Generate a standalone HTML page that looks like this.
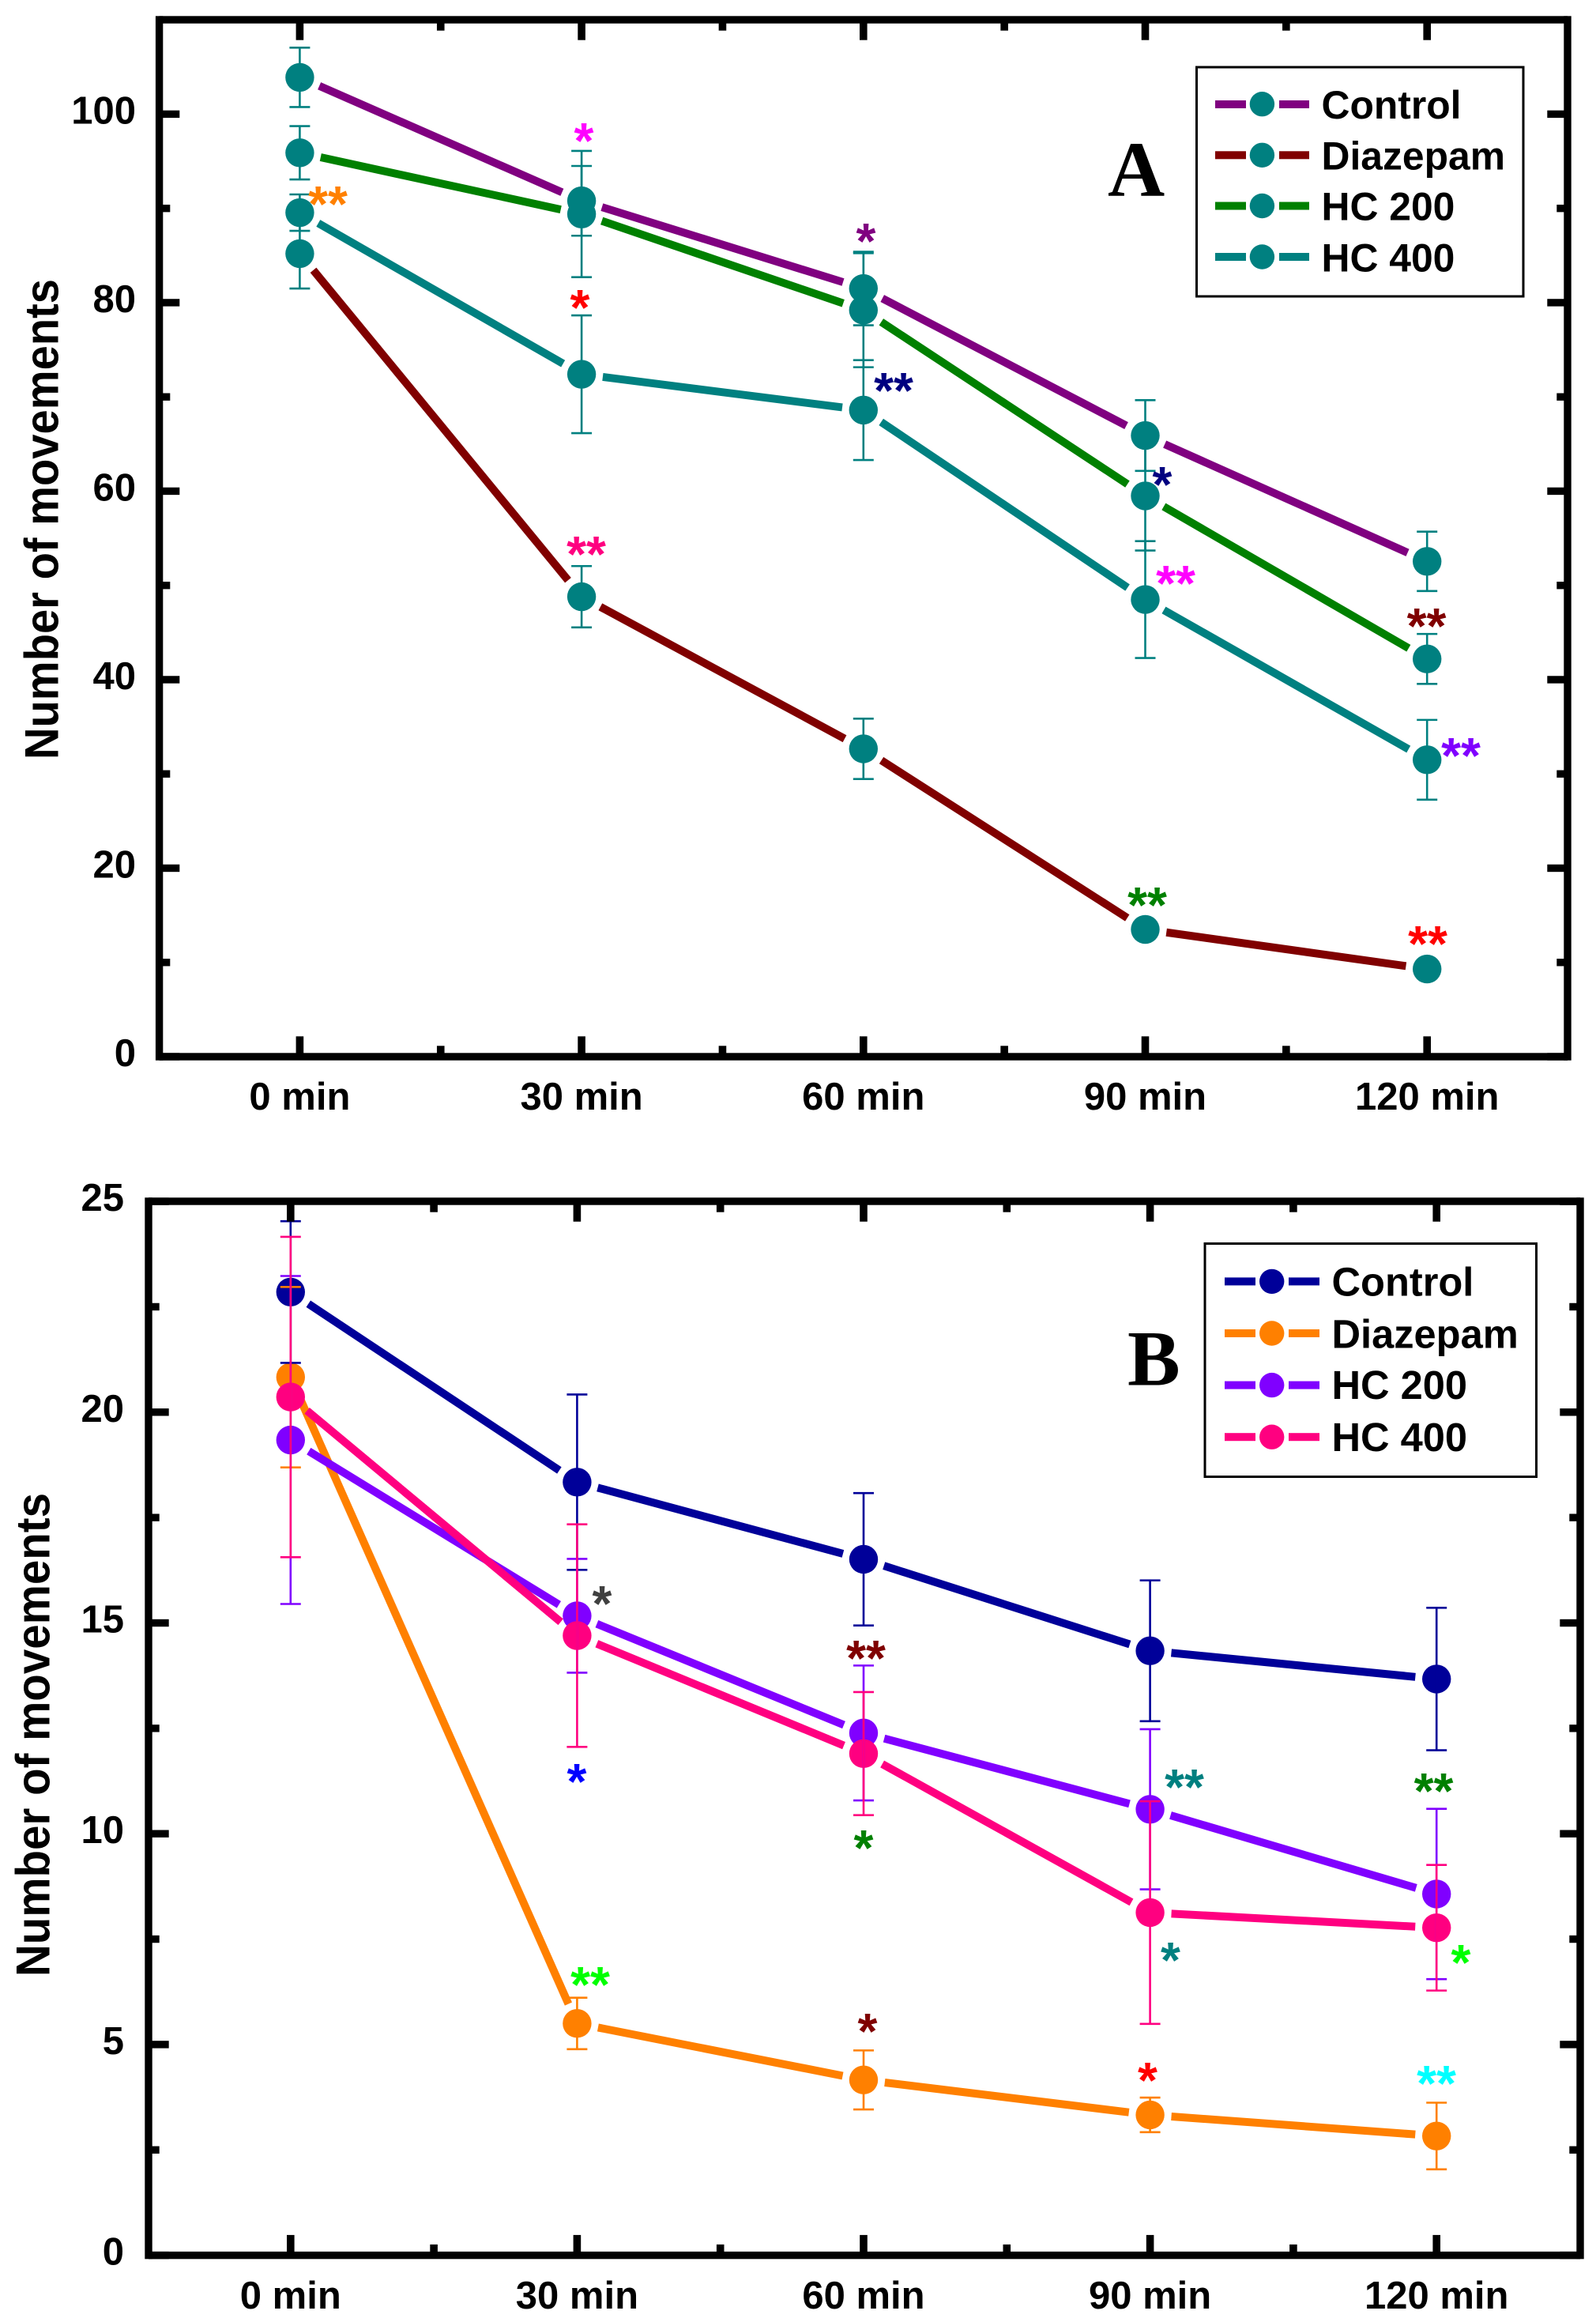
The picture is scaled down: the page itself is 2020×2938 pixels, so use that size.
<!DOCTYPE html>
<html>
<head>
<meta charset="utf-8">
<title>Number of movements, panels A and B</title>
<style>
html,body{margin:0;padding:0;background:#fff;width:2020px;height:2938px;overflow:hidden}
svg{display:block}
text{font-family:"Liberation Sans",Arial,sans-serif;font-weight:bold;fill:#000}
.tick{font-size:49px}
.leg{font-size:49.8px}
.legb{font-size:50.6px}
.panel{font-family:"Liberation Serif","Times New Roman",serif;font-size:100px}
.star{font-size:64px;text-anchor:middle}
.ytitle{font-size:60px}
</style>
</head>
<body>
<svg id="fig" xmlns="http://www.w3.org/2000/svg" width="2020" height="2938" viewBox="0 0 2020 2938">
  <rect width="2020" height="2938" fill="#fff"/>
  <g id="panelA"></g>
  <g id="panelB"></g>

  <text class="ytitle" transform="translate(73.5,961) rotate(-90)" textLength="608" lengthAdjust="spacingAndGlyphs">Number of movements</text>
  <text class="ytitle" transform="translate(62.5,2501) rotate(-90)" textLength="612" lengthAdjust="spacingAndGlyphs">Number of movements</text>

  <text class="panel" x="1402" y="248">A</text>
  <text class="panel" x="1427" y="1752.6">B</text>

  <g>
    <rect x="1514.5" y="85" width="413.5" height="290" fill="#fff" stroke="#000" stroke-width="3"/>
    <g>
      <rect x="1538" y="127" width="39" height="10" fill="#800080"/><rect x="1619" y="127" width="38" height="10" fill="#800080"/>
      <circle cx="1597.4" cy="131.7" r="15.7" fill="#008080"/>
      <text class="leg" x="1672.5" y="150">Control</text>
    </g>
    <g>
      <rect x="1538" y="191.3" width="39" height="10" fill="#800000"/><rect x="1619" y="191.3" width="38" height="10" fill="#800000"/>
      <circle cx="1597.4" cy="196.3" r="15.7" fill="#008080"/>
      <text class="leg" x="1672.5" y="214.7">Diazepam</text>
    </g>
    <g>
      <rect x="1538" y="255.5" width="39" height="10" fill="#008000"/><rect x="1619" y="255.5" width="38" height="10" fill="#008000"/>
      <circle cx="1597.4" cy="260.5" r="15.7" fill="#008080"/>
      <text class="leg" x="1672.5" y="278.4">HC 200</text>
    </g>
    <g>
      <rect x="1538" y="320" width="39" height="10" fill="#008080"/><rect x="1619" y="320" width="38" height="10" fill="#008080"/>
      <circle cx="1597.4" cy="325" r="15.7" fill="#008080"/>
      <text class="leg" x="1672.5" y="343.5">HC 400</text>
    </g>
  </g>

  <g>
    <rect x="1525" y="1573.5" width="419.5" height="295" fill="#fff" stroke="#000" stroke-width="3"/>
    <g>
      <rect x="1550" y="1616.4" width="39" height="10" fill="#000099"/><rect x="1631" y="1616.4" width="39" height="10" fill="#000099"/>
      <circle cx="1609.7" cy="1621.4" r="15.7" fill="#000099"/>
      <text class="legb" x="1685.5" y="1639.3">Control</text>
    </g>
    <g>
      <rect x="1550" y="1682" width="39" height="10" fill="#ff8000"/><rect x="1631" y="1682" width="39" height="10" fill="#ff8000"/>
      <circle cx="1609.7" cy="1687" r="15.7" fill="#ff8000"/>
      <text class="legb" x="1685.5" y="1705.4">Diazepam</text>
    </g>
    <g>
      <rect x="1550" y="1747.6" width="39" height="10" fill="#8000ff"/><rect x="1631" y="1747.6" width="39" height="10" fill="#8000ff"/>
      <circle cx="1609.7" cy="1752.6" r="15.7" fill="#8000ff"/>
      <text class="legb" x="1685.5" y="1770">HC 200</text>
    </g>
    <g>
      <rect x="1550" y="1813.2" width="39" height="10" fill="#ff0080"/><rect x="1631" y="1813.2" width="39" height="10" fill="#ff0080"/>
      <circle cx="1609.7" cy="1818.2" r="15.7" fill="#ff0080"/>
      <text class="legb" x="1685.5" y="1836">HC 400</text>
    </g>
  </g>

  <g id="starsTop">
    <text class="star" x="415" y="280" style="fill:#ff8000">**</text>
    <text class="star" x="739" y="200" style="fill:#ff00ff">*</text>
    <text class="star" x="734" y="411" style="fill:#ff0000">*</text>
    <text class="star" x="742" y="723" style="fill:#ff0080">**</text>
    <text class="star" x="1096" y="327" style="fill:#800080">*</text>
    <text class="star" x="1131" y="516" style="fill:#000080">**</text>
    <text class="star" x="1471" y="635" style="fill:#000080">*</text>
    <text class="star" x="1488" y="760" style="fill:#ff00ff">**</text>
    <text class="star" x="1805.5" y="814" style="fill:#800000">**</text>
    <text class="star" x="1849" y="978" style="fill:#8000ff">**</text>
    <text class="star" x="1452" y="1167" style="fill:#008000">**</text>
    <text class="star" x="1807" y="1216" style="fill:#ff0000">**</text>

    <text class="star" x="762" y="2051" style="fill:#404040">*</text>
    <text class="star" x="730" y="2276" style="fill:#0000ff">*</text>
    <text class="star" x="747" y="2533" style="fill:#00ff00">**</text>
    <text class="star" x="1096" y="2120" style="fill:#800000">**</text>
    <text class="star" x="1093" y="2360" style="fill:#008000">*</text>
    <text class="star" x="1098" y="2592" style="fill:#800000">*</text>
    <text class="star" x="1452.5" y="2654" style="fill:#ff0000">*</text>
    <text class="star" x="1499" y="2283" style="fill:#008080">**</text>
    <text class="star" x="1481.5" y="2502" style="fill:#008080">*</text>
    <text class="star" x="1814.5" y="2288" style="fill:#008000">**</text>
    <text class="star" x="1849" y="2505" style="fill:#00ff00">*</text>
    <text class="star" x="1818" y="2658" style="fill:#00ffff">**</text>
  </g>
</svg>

<script>
// ---- shared categories ----
var categories = ["0 min", "30 min", "60 min", "90 min", "120 min"];

// ---- panel A data ----
var yTicksA = [0, 20, 40, 60, 80, 100];
var yMinorA = [10, 30, 50, 70, 90];
var controlA   = [103.9, 90.8, 81.5, 65.9, 52.55];
var controlErrA = [3.15, 3.7, 3.9, 3.75, 3.15];
var diazepamA  = [85.2, 48.8, 32.66, 13.5, 9.3];
var diazepamErrA = [3.7, 3.25, 3.2, 0.9, 0.9];
var hc200A     = [95.9, 89.4, 79.2, 59.5, 42.2];
var hc200ErrA  = [2.83, 6.7, 6.05, 5.8, 2.65];
var hc400A     = [89.55, 72.4, 68.6, 48.5, 31.5];
var hc400ErrA  = [1.93, 6.25, 5.3, 6.2, 4.23];

// ---- panel B data ----
var yTicksB = [0, 5, 10, 15, 20, 25];
var yMinorB = [2.5, 7.5, 12.5, 17.5, 22.5];
var controlB   = [22.85, 18.34, 16.51, 14.34, 13.67];
var controlErrB = [1.68, 2.08, 1.57, 1.67, 1.69];
var diazepamB  = [20.83, 5.5, 4.16, 3.33, 2.83];
var diazepamErrB = [2.14, 0.61, 0.7, 0.41, 0.79];
var hc200B     = [19.34, 15.17, 12.39, 10.58, 8.57];
var hc200ErrB  = [3.89, 1.35, 1.6, 1.9, 2.02];
var hc400B     = [20.36, 14.7, 11.9, 8.13, 7.77];
var hc400ErrB  = [3.8, 2.64, 1.46, 2.64, 1.49];

var NS = "http://www.w3.org/2000/svg";

function xA(i) { return 379.4 + 356.7 * i; }
function yA(v) { return 1337 - 11.926 * v; }
function xB(i) { return 367.8 + 362.6 * i; }
function yB(v) { return 2853.6 - 53.34 * v; }

function rect(parent, x, y, w, h, fill) {
  var r = document.createElementNS(NS, "rect");
  r.setAttribute("x", x);
  r.setAttribute("y", y);
  r.setAttribute("width", w);
  r.setAttribute("height", h);
  r.setAttribute("fill", fill || "#000");
  parent.appendChild(r);
  return r;
}
function line(parent, x1, y1, x2, y2, color, width) {
  var l = document.createElementNS(NS, "line");
  l.setAttribute("x1", x1);
  l.setAttribute("y1", y1);
  l.setAttribute("x2", x2);
  l.setAttribute("y2", y2);
  l.setAttribute("stroke", color);
  l.setAttribute("stroke-width", width);
  parent.appendChild(l);
  return l;
}

function drawAxes(root, g, key, xf, yf, yTicks, yMinor) {
  var frame = rect(root, g.left - g.t / 2, g.top - g.t / 2, g.t, g.bottom - g.top + g.t);
  
  
  var right = rect(root, g.right - g.t / 2, g.top - g.t / 2, g.t, g.bottom - g.top + g.t);
  
  
  var top = rect(root, g.left, g.top - g.t / 2, g.right - g.left, g.t);
  
  
  var bottom = rect(root, g.left, g.bottom - g.t / 2, g.right - g.left, g.t);
  
  

  yTicks.forEach(function (v) {
    var y = yf(v);
    var a = rect(root, g.left, y - 4.7, g.major + g.t / 2, 9.4);
    
    
    var b = rect(root, g.right - g.t / 2 - g.major, y - 4.7, g.major + g.t / 2, 9.4);
    
    
    var t = document.createElementNS(NS, "text");
    t.setAttribute("class", "tick");
    t.setAttribute("text-anchor", "end");
    t.setAttribute("x", g.labelRight);
    t.setAttribute("y", y + 12);
    t.textContent = String(v);
    
    
    root.appendChild(t);
  });
  yMinor.forEach(function (v) {
    var y = yf(v);
    var a = rect(root, g.left, y - 4.7, g.minor + g.t / 2, 9.4);
    
    
    var b = rect(root, g.right - g.t / 2 - g.minor, y - 4.7, g.minor + g.t / 2, 9.4);
    
    
  });
  categories.forEach(function (c, i) {
    var x = xf(i);
    var a = rect(root, x - 4.8, g.bottom - g.major - g.t / 2, 9.6, g.major + g.t / 2);
    
    
    var b = rect(root, x - 4.8, g.top, 9.6, g.major + g.t / 2);
    
    
    var t = document.createElementNS(NS, "text");
    t.setAttribute("class", "tick");
    t.setAttribute("text-anchor", "middle");
    t.setAttribute("x", x);
    t.setAttribute("y", g.labelBase);
    t.textContent = c;
    
    
    root.appendChild(t);
    if (i < categories.length - 1) {
      var mx = xf(i + 0.5);
      var m1 = rect(root, mx - 4.8, g.bottom - g.minor - g.t / 2, 9.6, g.minor + g.t / 2);
      
      
      var m2 = rect(root, mx - 4.8, g.top, 9.6, g.minor + g.t / 2);
      
      
    }
  });
}

function drawSeries(root, key, series, xf, yf) {
  var GAP = 27;
  // connecting lines, broken around each point
  series.forEach(function (s) {
    for (var i = 0; i < s.values.length - 1; i++) {
      var x1 = xf(i), y1 = yf(s.values[i]), x2 = xf(i + 1), y2 = yf(s.values[i + 1]);
      var d = Math.hypot(x2 - x1, y2 - y1);
      var ux = (x2 - x1) / d, uy = (y2 - y1) / d;
      var seg = line(root, x1 + ux * GAP, y1 + uy * GAP, x2 - ux * GAP, y2 - uy * GAP, s.line, 10);
      
      
    }
  });
  // markers
  series.forEach(function (s) {
    s.values.forEach(function (v, i) {
      var c = document.createElementNS(NS, "circle");
      c.setAttribute("cx", xf(i));
      c.setAttribute("cy", yf(v));
      c.setAttribute("r", 18.2);
      c.setAttribute("fill", s.marker);
      
      
      root.appendChild(c);
    });
  });
  // error bars
  series.forEach(function (s) {
    s.values.forEach(function (v, i) {
      var x = xf(i), up = yf(v + s.errors[i]), lo = yf(v - s.errors[i]);
      var e = line(root, x, up, x, lo, s.marker, 2.6);
      
      
      var c1 = line(root, x - 13, up, x + 13, up, s.marker, 2.6);
      
      
      var c2 = line(root, x - 13, lo, x + 13, lo, s.marker, 2.6);
      
      
    });
  });
}

drawSeries(document.getElementById("panelA"), "a", [
  { name: "control", values: controlA, errors: controlErrA, line: "#800080", marker: "#008080" },
  { name: "diazepam", values: diazepamA, errors: diazepamErrA, line: "#800000", marker: "#008080" },
  { name: "hc-200", values: hc200A, errors: hc200ErrA, line: "#008000", marker: "#008080" },
  { name: "hc-400", values: hc400A, errors: hc400ErrA, line: "#008080", marker: "#008080" }
], xA, yA);
drawAxes(document.getElementById("panelA"),
  { left: 201.6, right: 1984, top: 25, bottom: 1337, t: 9.4, major: 21, minor: 9, labelRight: 172, labelBase: 1404 },
  "a", xA, yA, yTicksA, yMinorA);

drawSeries(document.getElementById("panelB"), "b", [
  { name: "control", values: controlB, errors: controlErrB, line: "#000099", marker: "#000099" },
  { name: "diazepam", values: diazepamB, errors: diazepamErrB, line: "#ff8000", marker: "#ff8000" },
  { name: "hc-200", values: hc200B, errors: hc200ErrB, line: "#8000ff", marker: "#8000ff" },
  { name: "hc-400", values: hc400B, errors: hc400ErrB, line: "#ff0080", marker: "#ff0080" }
], xB, yB);
drawAxes(document.getElementById("panelB"),
  { left: 188, right: 2000, top: 1520, bottom: 2853.6, t: 9.4, major: 21, minor: 9, labelRight: 157, labelBase: 2921 },
  "b", xB, yB, yTicksB, yMinorB);
</script>
</body>
</html>
